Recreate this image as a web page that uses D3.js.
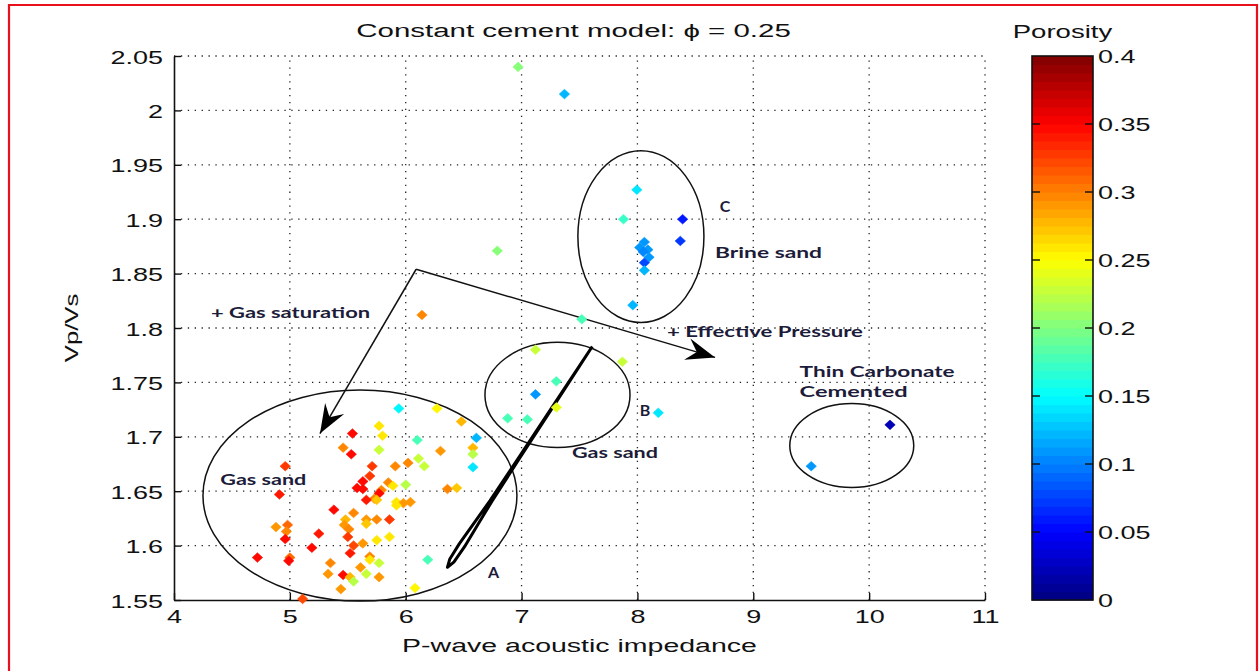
<!DOCTYPE html>
<html>
<head>
<meta charset="utf-8">
<script src="https://cdn.jsdelivr.net/npm/d3@7"></script>
<style>
  body { margin: 0; background: #fff; }
  svg { display: block; }
</style>
</head>
<body>
<svg id="chart" width="1259" height="671"></svg>
<script>
// ---- Well-log samples: P-wave acoustic impedance, Vp/Vs and porosity ----
const impedance = [
  6.97, 7.37,
  7.995, 7.88, 8.39, 8.37, 8.06, 8.02, 8.09, 8.05, 8.10, 8.06, 8.06, 7.96,
  6.79, 6.14, 7.52,
  7.12, 7.87, 7.30, 7.12, 7.30, 6.88, 7.05, 8.18,
  10.18, 9.50,
  5.94, 6.27, 5.77, 6.48, 5.54, 5.80, 6.10, 6.61, 5.46, 5.53,
  5.77, 6.30, 6.58, 6.58, 6.11, 6.16, 6.58, 4.96, 5.71, 5.91,
  6.02, 5.69, 5.63, 5.85, 5.89, 6.00, 5.58, 5.63, 5.79, 6.36,
  6.44, 4.91, 5.77, 5.73, 5.66, 5.75, 5.92, 5.98, 5.92, 6.04,
  5.38, 5.55, 5.48, 5.66, 5.75, 5.86, 5.66, 5.47, 4.98, 4.88,
  4.97, 5.25, 5.51, 5.86, 5.50, 4.96, 5.55, 5.75, 5.63, 5.19,
  5.52, 4.72, 5.00, 4.99, 5.69, 5.69, 5.77, 5.35, 5.61, 6.19,
  5.33, 5.46, 5.52, 5.66, 5.55, 5.77, 5.44, 6.08, 5.11
];
const vpvs = [
  2.040, 2.015,
  1.927, 1.900, 1.900, 1.880, 1.879, 1.874, 1.872, 1.870, 1.865, 1.860, 1.853, 1.821,
  1.871, 1.812, 1.808,
  1.780, 1.769, 1.751, 1.739, 1.727, 1.717, 1.716, 1.722,
  1.711, 1.673,
  1.726, 1.726, 1.710, 1.714, 1.703, 1.701, 1.697, 1.699, 1.690, 1.684,
  1.688, 1.687, 1.690, 1.684, 1.680, 1.673, 1.672, 1.673, 1.673, 1.673,
  1.676, 1.664, 1.659, 1.658, 1.655, 1.656, 1.653, 1.652, 1.651, 1.652,
  1.653, 1.647, 1.648, 1.643, 1.642, 1.642, 1.640, 1.639, 1.637, 1.640,
  1.633, 1.630, 1.624, 1.624, 1.624, 1.624, 1.620, 1.619, 1.619, 1.617,
  1.613, 1.611, 1.615, 1.608, 1.608, 1.606, 1.600, 1.605, 1.602, 1.598,
  1.593, 1.589, 1.589, 1.586, 1.590, 1.587, 1.584, 1.584, 1.580, 1.587,
  1.574, 1.573, 1.571, 1.574, 1.567, 1.571, 1.560, 1.561, 1.551
];
const porosity = [
  0.20, 0.12,
  0.14, 0.17, 0.06, 0.07, 0.11, 0.11, 0.11, 0.10, 0.11, 0.08, 0.12, 0.12,
  0.20, 0.30, 0.18,
  0.23, 0.23, 0.18, 0.11, 0.24, 0.18, 0.18, 0.14,
  0.02, 0.11,
  0.15, 0.25, 0.26, 0.28, 0.35, 0.26, 0.18, 0.12, 0.30, 0.35,
  0.23, 0.29, 0.28, 0.22, 0.23, 0.23, 0.14, 0.33, 0.33, 0.30,
  0.30, 0.33, 0.35, 0.30, 0.26, 0.22, 0.35, 0.35, 0.30, 0.30,
  0.27, 0.34, 0.35, 0.30, 0.34, 0.27, 0.26, 0.29, 0.26, 0.29,
  0.35, 0.30, 0.28, 0.29, 0.30, 0.33, 0.27, 0.29, 0.31, 0.29,
  0.30, 0.34, 0.30, 0.26, 0.33, 0.35, 0.32, 0.26, 0.29, 0.35,
  0.34, 0.35, 0.31, 0.35, 0.30, 0.26, 0.23, 0.30, 0.29, 0.18,
  0.29, 0.35, 0.28, 0.23, 0.22, 0.29, 0.29, 0.25, 0.32
];

// Constant cement model trend (phi = 0.25): two branches that merge up-dip
const modelBranchA = [
  [7.61, 1.783], [7.2953, 1.7324], [6.9814, 1.6818], [6.7278, 1.6414],
  [6.5956, 1.6216], [6.4634, 1.6018], [6.3795, 1.5874], [6.36, 1.580]
];
const modelBranchB = [
  [6.36, 1.580], [6.4155, 1.5848], [6.5066, 1.5988], [6.6244, 1.6196],
  [6.7422, 1.6404], [6.9886, 1.6812], [7.2997, 1.7321], [7.61, 1.783]
];

// Axis ticks
const xTicks = [4, 5, 6, 7, 8, 9, 10, 11];
const yTicks = [1.55, 1.6, 1.65, 1.7, 1.75, 1.8, 1.85, 1.9, 1.95, 2, 2.05];
const cbarTicks = [0, 0.05, 0.1, 0.15, 0.2, 0.25, 0.3, 0.35, 0.4];
const porosityRange = [0, 0.4];

// Interpretation zones (centre and radii in axis units)
const zones = [
  { cx: 5.605, cy: 1.646, rx: 1.355, ry: 0.0970 },   // A - gas sand
  { cx: 7.31,  cy: 1.7385, rx: 0.626, ry: 0.0483 },  // B - gas sand
  { cx: 8.03,  cy: 1.884, rx: 0.544, ry: 0.0790 },   // C - brine sand
  { cx: 9.85,  cy: 1.692, rx: 0.535, ry: 0.0386 }    // thin carbonate
];

// Trend arrows sharing a common origin
const arrowOrigin = [6.09, 1.854];
const arrowTips = [[5.26, 1.703], [8.67, 1.773]];

// Annotation labels (anchor in axis units, text width in px)
const notes = [
  { text: "+ Gas saturation", x: 4.32, y: 1.809, w: 159 },
  { text: "+ Effective Pressure", x: 8.255, y: 1.792, w: 196 },
  { text: "Brine sand", x: 8.67, y: 1.864, w: 107 },
  { text: "C", x: 8.71, y: 1.907, w: 13 },
  { text: "B", x: 8.02, y: 1.719, w: 13 },
  { text: "Gas sand", x: 7.435, y: 1.6805, w: 86 },
  { text: "Gas sand", x: 4.40, y: 1.656, w: 86 },
  { text: "A", x: 6.71, y: 1.570, w: 14 },
  { text: "Thin Carbonate", x: 9.40, y: 1.755, w: 155 },
  { text: "Cemented", x: 9.40, y: 1.7366, w: 108 }
];

// ---- Layout ----
const svg = d3.select("#chart");
const W = 1259, H = 671;
const plot = { left: 174, right: 985, top: 56, bottom: 600 };
const cbar = { left: 1032, right: 1093, top: 56, bottom: 600 };
const FONT = "'Liberation Sans', Arial, Helvetica, sans-serif";
const SX = 1.42; // horizontal stretch of the plain text

const x = d3.scaleLinear().domain([4, 11]).range([plot.left, plot.right]);
const y = d3.scaleLinear().domain([1.55, 2.05]).range([plot.bottom, plot.top]);
const cy = d3.scaleLinear().domain(porosityRange).range([cbar.bottom, cbar.top]);

// MATLAB-style jet colormap with 64 discrete levels
function jet(t) {
  const n = 64;
  const i = Math.max(0, Math.min(n - 1, Math.floor(t * n)));
  const v = (i + 0.5) / n;
  const c = f => Math.max(0, Math.min(1, f));
  const r = c(1.5 - Math.abs(4 * v - 3));
  const g = c(1.5 - Math.abs(4 * v - 2));
  const b = c(1.5 - Math.abs(4 * v - 1));
  return d3.rgb(r * 255, g * 255, b * 255).toString();
}
const colorOf = p => jet((p - porosityRange[0]) / (porosityRange[1] - porosityRange[0]));

svg.append("rect").attr("width", W).attr("height", H).attr("fill", "#fff");

// outer red frame
svg.append("path")
  .attr("d", `M9,${H} V5 H1257 V${H}`)
  .attr("fill", "none").attr("stroke", "#e8101a").attr("stroke-width", 2.2);

function stretched(g, px, py, str, opts = {}) {
  const t = g.append("text")
    .attr("transform", `translate(${px},${py}) scale(${opts.sx || SX},1)`)
    .attr("text-anchor", opts.anchor || "middle")
    .attr("font-family", opts.family || FONT)
    .attr("font-size", opts.size || 19)
    .attr("fill", opts.fill || "#111")
    .text(str);
  if (opts.weight) t.attr("font-weight", opts.weight);
  return t;
}

// ---- Grid ----
const grid = svg.append("g").attr("stroke", "#222").attr("stroke-width", 1.3)
  .attr("stroke-dasharray", "1.3,5.6").attr("fill", "none");
grid.selectAll("line.gx").data(xTicks.slice(1)).join("line")
  .attr("x1", d => x(d)).attr("x2", d => x(d))
  .attr("y1", plot.bottom).attr("y2", plot.top);
grid.selectAll("line.gy").data(yTicks.slice(1)).join("line")
  .attr("y1", d => y(d)).attr("y2", d => y(d))
  .attr("x1", plot.left).attr("x2", plot.right);

// ---- Axes (left and bottom, inward ticks) ----
const xAxis = svg.append("g").attr("transform", `translate(0,${plot.bottom})`)
  .call(d3.axisBottom(x).tickValues(xTicks).tickFormat(d3.format("d"))
    .tickSizeInner(-7).tickSizeOuter(0).tickPadding(0));
xAxis.select(".domain").attr("stroke", "#111").attr("stroke-width", 1.6);
xAxis.selectAll(".tick line").attr("stroke", "#111").attr("stroke-width", 1.4);
xAxis.selectAll(".tick text").each(function () {
  d3.select(this).attr("y", null).attr("dy", null)
    .attr("transform", `translate(0,23) scale(${SX},1)`)
    .attr("font-family", FONT).attr("font-size", 19).attr("fill", "#111");
});

const yAxis = svg.append("g").attr("transform", `translate(${plot.left},0)`)
  .call(d3.axisLeft(y).tickValues(yTicks).tickFormat(d => String(+d.toFixed(2)))
    .tickSizeInner(-7).tickSizeOuter(0).tickPadding(0));
yAxis.select(".domain").attr("stroke", "#111").attr("stroke-width", 1.6);
yAxis.selectAll(".tick line").attr("stroke", "#111").attr("stroke-width", 1.4);
yAxis.selectAll(".tick text").each(function () {
  d3.select(this).attr("x", null).attr("dy", null)
    .attr("transform", `translate(-11,7) scale(${SX},1)`)
    .attr("text-anchor", "end")
    .attr("font-family", FONT).attr("font-size", 19).attr("fill", "#111");
});

// ---- Titles ----
stretched(svg, (plot.left + plot.right) / 2 - 6, 37, "Constant cement model: \u03D5 = 0.25", { sx: 1.55 });
stretched(svg, (plot.left + plot.right) / 2, 652, "P-wave acoustic impedance", { sx: 1.5 });
svg.append("text")
  .attr("transform", `translate(78,${(plot.top + plot.bottom) / 2}) rotate(-90) scale(1.35,1)`)
  .attr("text-anchor", "middle").attr("font-family", FONT).attr("font-size", 19)
  .attr("fill", "#111").text("Vp/Vs");

// ---- Zone outlines ----
svg.append("g").selectAll("ellipse").data(zones).join("ellipse")
  .attr("cx", d => x(d.cx)).attr("cy", d => y(d.cy))
  .attr("rx", d => x(d.cx + d.rx) - x(d.cx))
  .attr("ry", d => y(d.cy - d.ry) - y(d.cy))
  .attr("fill", "none").attr("stroke", "#111").attr("stroke-width", 1.5);

// ---- Constant cement model trend ----
const line = d3.line().x(d => x(d[0])).y(d => y(d[1])).curve(d3.curveLinear);
svg.append("path")
  .attr("d", line(modelBranchA.concat(modelBranchB.slice(1))))
  .attr("fill", "none").attr("stroke", "#000").attr("stroke-width", 3)
  .attr("stroke-linejoin", "round");

// ---- Trend arrows ----
const defs = svg.append("defs");
defs.append("marker").attr("id", "head")
  .attr("markerUnits", "userSpaceOnUse")
  .attr("viewBox", "-30 -13 32 26").attr("refX", 0).attr("refY", 0)
  .attr("markerWidth", 32).attr("markerHeight", 26).attr("orient", "auto")
  .append("path").attr("d", "M0,0 L-29,-11 L-19,0 L-29,11 Z").attr("fill", "#000");
svg.append("g").selectAll("line").data(arrowTips).join("line")
  .attr("x1", x(arrowOrigin[0])).attr("y1", y(arrowOrigin[1]))
  .attr("x2", d => x(d[0])).attr("y2", d => y(d[1]))
  .attr("stroke", "#111").attr("stroke-width", 1.5)
  .attr("marker-end", "url(#head)");

// ---- Samples ----
const idx = d3.range(impedance.length);
svg.append("g").selectAll("path").data(idx).join("path")
  .attr("transform", i => `translate(${x(impedance[i])},${y(vpvs[i])})`)
  .attr("d", "M0,-4.8 L5.2,0 L0,4.8 L-5.2,0 Z")
  .attr("fill", i => colorOf(porosity[i]))
  .attr("stroke", i => colorOf(porosity[i])).attr("stroke-width", 0.6);

// ---- Annotations ----
const ann = svg.append("g");
notes.forEach(n => {
  const t = ann.append("text")
    .attr("x", x(n.x)).attr("y", y(n.y))
    .attr("font-family", "Lato, 'Open Sans', sans-serif")
    .attr("font-weight", "bold").attr("font-size", 16)
    .attr("fill", "#1c1c3a").text(n.text);
  if (n.text.length > 1) t.attr("textLength", n.w).attr("lengthAdjust", "spacingAndGlyphs");
});

// ---- Colorbar ----
const levels = d3.range(64);
const step = (porosityRange[1] - porosityRange[0]) / 64;
svg.append("g").selectAll("rect").data(levels).join("rect")
  .attr("x", cbar.left).attr("width", cbar.right - cbar.left)
  .attr("y", i => cy(porosityRange[0] + (i + 1) * step))
  .attr("height", i => cy(porosityRange[0] + i * step) - cy(porosityRange[0] + (i + 1) * step) + 0.5)
  .attr("fill", i => jet((i + 0.5) / 64));
svg.append("rect")
  .attr("x", cbar.left).attr("y", cbar.top)
  .attr("width", cbar.right - cbar.left).attr("height", cbar.bottom - cbar.top)
  .attr("fill", "none").attr("stroke", "#111").attr("stroke-width", 1.6);
const cb = svg.append("g");
cb.selectAll("line.l").data(cbarTicks.slice(1, -1)).join("line")
  .attr("x1", cbar.left).attr("x2", cbar.left + 8)
  .attr("y1", d => cy(d)).attr("y2", d => cy(d))
  .attr("stroke", "#111").attr("stroke-width", 1.4);
cb.selectAll("line.r").data(cbarTicks.slice(1, -1)).join("line")
  .attr("x1", cbar.right - 8).attr("x2", cbar.right)
  .attr("y1", d => cy(d)).attr("y2", d => cy(d))
  .attr("stroke", "#111").attr("stroke-width", 1.4);
cbarTicks.forEach(v => {
  stretched(cb, cbar.right + 5, cy(v) + 7, String(+v.toFixed(2)), { anchor: "start" });
});
stretched(svg, (cbar.left + cbar.right) / 2, 38, "Porosity", { sx: 1.45 });
</script>
</body>
</html>
